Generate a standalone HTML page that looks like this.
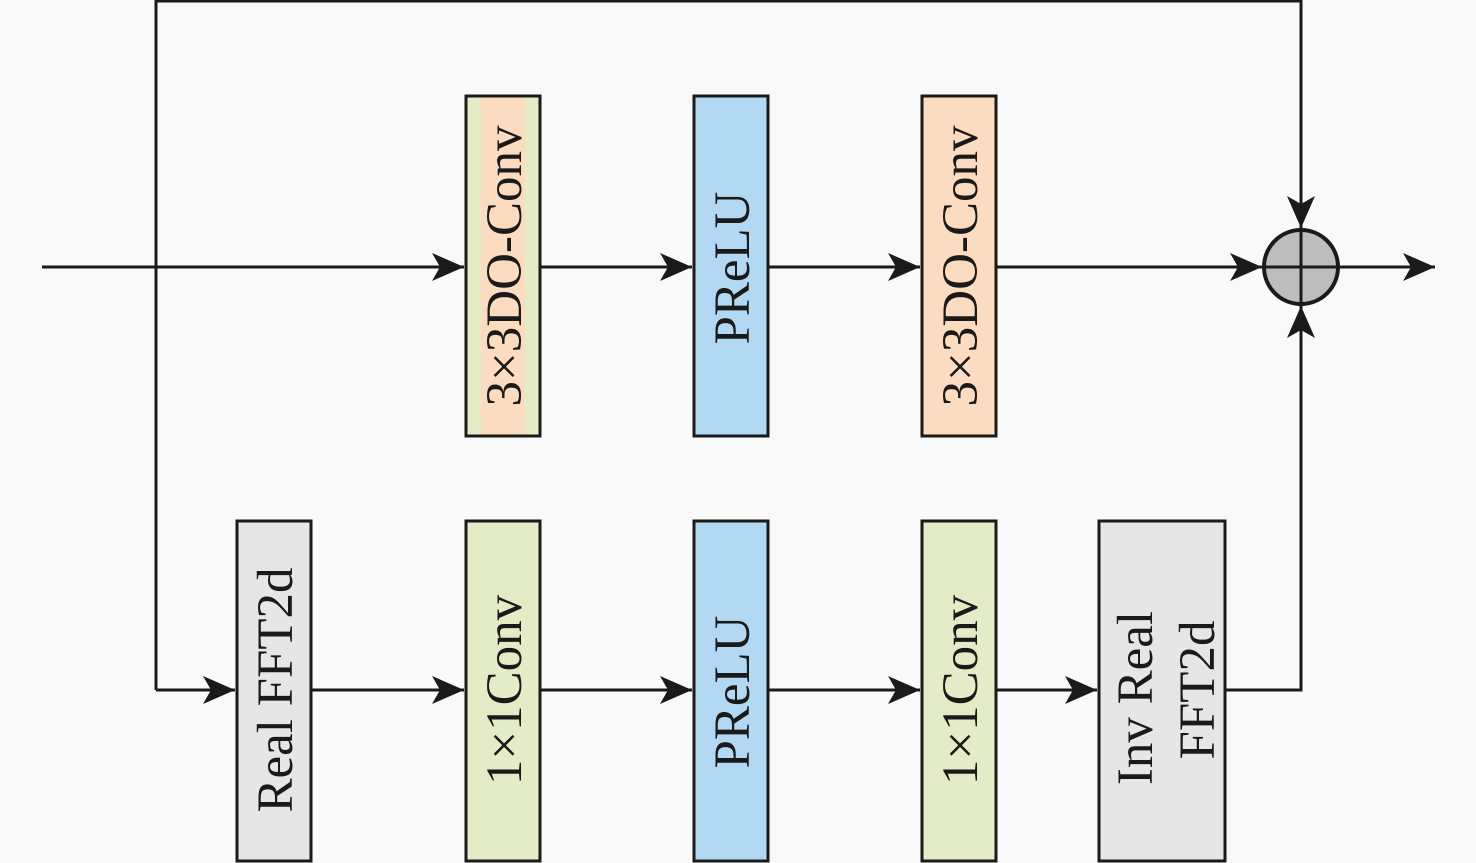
<!DOCTYPE html>
<html><head><meta charset="utf-8"><style>
html,body{margin:0;padding:0;background:#f9f9f9;}
svg{display:block}
text{font-family:"Liberation Serif","Times New Roman",serif;font-size:51px;fill:#1a1a1a}
</style></head><body>
<svg width="1476" height="863" viewBox="0 0 1476 863" xmlns="http://www.w3.org/2000/svg">
<defs>
<marker id="a" markerWidth="34" markerHeight="28" refX="32" refY="14" orient="auto" markerUnits="userSpaceOnUse">
<path d="M0,0 L32,14 L0,28 L8,14 Z" fill="#1a1a1a"/></marker>
<linearGradient id="g" x1="0" x2="1" y1="0" y2="0">
<stop offset="0" stop-color="#e6ebc6"/><stop offset="0.2" stop-color="#e6ebc6"/>
<stop offset="0.2" stop-color="#fcdcc0"/><stop offset="0.8" stop-color="#fcdcc0"/>
<stop offset="0.8" stop-color="#e6ebc6"/><stop offset="1" stop-color="#e6ebc6"/></linearGradient>
</defs>
<g stroke="#1a1a1a" stroke-width="3" fill="none">
<polyline points="156,690 156,1 1301,1 1301,228" marker-end="url(#a)"/>
<line x1="42" y1="267" x2="464" y2="267" marker-end="url(#a)"/>
<line x1="541" y1="267" x2="692" y2="267" marker-end="url(#a)"/>
<line x1="769" y1="267" x2="920" y2="267" marker-end="url(#a)"/>
<line x1="997" y1="267" x2="1262" y2="267" marker-end="url(#a)"/>
<line x1="1340" y1="267" x2="1435" y2="267" marker-end="url(#a)"/>
<line x1="156" y1="690" x2="235" y2="690" marker-end="url(#a)"/>
<line x1="312" y1="690" x2="464" y2="690" marker-end="url(#a)"/>
<line x1="541" y1="690" x2="692" y2="690" marker-end="url(#a)"/>
<line x1="769" y1="690" x2="920" y2="690" marker-end="url(#a)"/>
<line x1="997" y1="690" x2="1097" y2="690" marker-end="url(#a)"/>
<polyline points="1226,690 1301,690 1301,306" marker-end="url(#a)"/>
</g>
<circle cx="1301" cy="267" r="37" fill="#bdbdbd" stroke="#1a1a1a" stroke-width="4"/>
<line x1="1264" y1="267" x2="1338" y2="267" stroke="#1a1a1a" stroke-width="3"/>
<line x1="1301" y1="230" x2="1301" y2="304" stroke="#1a1a1a" stroke-width="3"/>
<g stroke="#1a1a1a" stroke-width="3">
<rect x="466" y="96" width="74" height="340" fill="url(#g)"/>
<rect x="694" y="96" width="74" height="340" fill="#b3d8f3"/>
<rect x="922" y="96" width="74" height="340" fill="#fcdcc0"/>
<rect x="237" y="521" width="74" height="340" fill="#e6e6e6"/>
<rect x="466" y="521" width="74" height="340" fill="#e4ebc7"/>
<rect x="694" y="521" width="74" height="340" fill="#b3d8f3"/>
<rect x="922" y="521" width="74" height="340" fill="#e4ebc7"/>
<rect x="1099" y="521" width="126" height="340" fill="#e6e6e6"/>
</g>
<g text-anchor="middle">
<text transform="translate(521,266) rotate(-90)">3×3DO-Conv</text>
<text transform="translate(749,268) rotate(-90)">PReLU</text>
<text transform="translate(977,266) rotate(-90)">3×3DO-Conv</text>
<text transform="translate(292,690) rotate(-90)">Real FFT2d</text>
<text transform="translate(521,690) rotate(-90)">1×1Conv</text>
<text transform="translate(749,692) rotate(-90)">PReLU</text>
<text transform="translate(977,690) rotate(-90)">1×1Conv</text>
<text transform="translate(1152,698) rotate(-90)">Inv Real</text>
<text transform="translate(1214,690) rotate(-90)">FFT2d</text>
</g>
</svg>
</body></html>
